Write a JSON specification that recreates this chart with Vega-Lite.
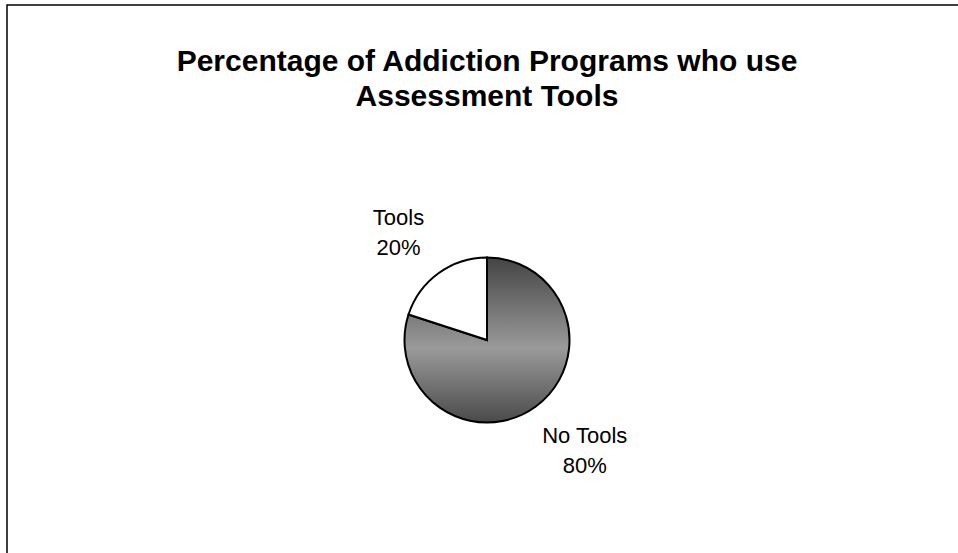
{
  "$schema": "https://vega.github.io/schema/vega-lite/v6.json",
  "width": 960,
  "height": 670,
  "autosize": {"type": "none"},
  "padding": {"left": 7, "top": 5, "right": 0, "bottom": 0},
  "background": "white",
  "view": {"stroke": "black", "strokeWidth": 1.5, "fill": "white"},
  "title": {
    "text": ["Percentage of Addiction Programs who use", "Assessment Tools"],
    "font": "Liberation Sans",
    "fontSize": 30,
    "fontWeight": "bold",
    "color": "black",
    "anchor": "middle",
    "frame": "group",
    "orient": "top",
    "baseline": "top",
    "offset": -107,
    "lineHeight": 35
  },
  "data": {
    "values": [
      {"category": "No Tools", "percent": 80, "label": "No Tools\n80%"},
      {"category": "Tools", "percent": 20, "label": "Tools\n20%"}
    ]
  },
  "encoding": {
    "theta": {"field": "percent", "type": "quantitative", "stack": true}
  },
  "layer": [
    {
      "mark": {"type": "arc", "outerRadius": 82.5, "stroke": "black", "strokeWidth": 2},
      "encoding": {
        "fill": {
          "condition": {"test": "datum.category === 'Tools'", "value": "white"},
          "value": {
            "gradient": "linear",
            "x1": 0, "y1": 0, "x2": 0, "y2": 1,
            "stops": [
              {"offset": 0, "color": "#444444"},
              {"offset": 0.55, "color": "#9a9a9a"},
              {"offset": 1, "color": "#4a4a4a"}
            ]
          }
        }
      }
    },
    {
      "mark": {"type": "text", "radius": 137, "dx": -8, "dy": -11, "align": "center", "baseline": "middle", "lineBreak": "\n", "font": "Liberation Sans", "fontSize": 22, "lineHeight": 30, "color": "black"},
      "encoding": {
        "text": {"field": "label", "type": "nominal"},
        "opacity": {"condition": {"test": "datum.category === 'Tools'", "value": 1}, "value": 0}
      }
    },
    {
      "mark": {"type": "text", "radius": 151, "dx": 9, "dy": -26, "align": "center", "baseline": "middle", "lineBreak": "\n", "font": "Liberation Sans", "fontSize": 22, "lineHeight": 30, "color": "black"},
      "encoding": {
        "text": {"field": "label", "type": "nominal"},
        "opacity": {"condition": {"test": "datum.category === 'No Tools'", "value": 1}, "value": 0}
      }
    }
  ]
}
